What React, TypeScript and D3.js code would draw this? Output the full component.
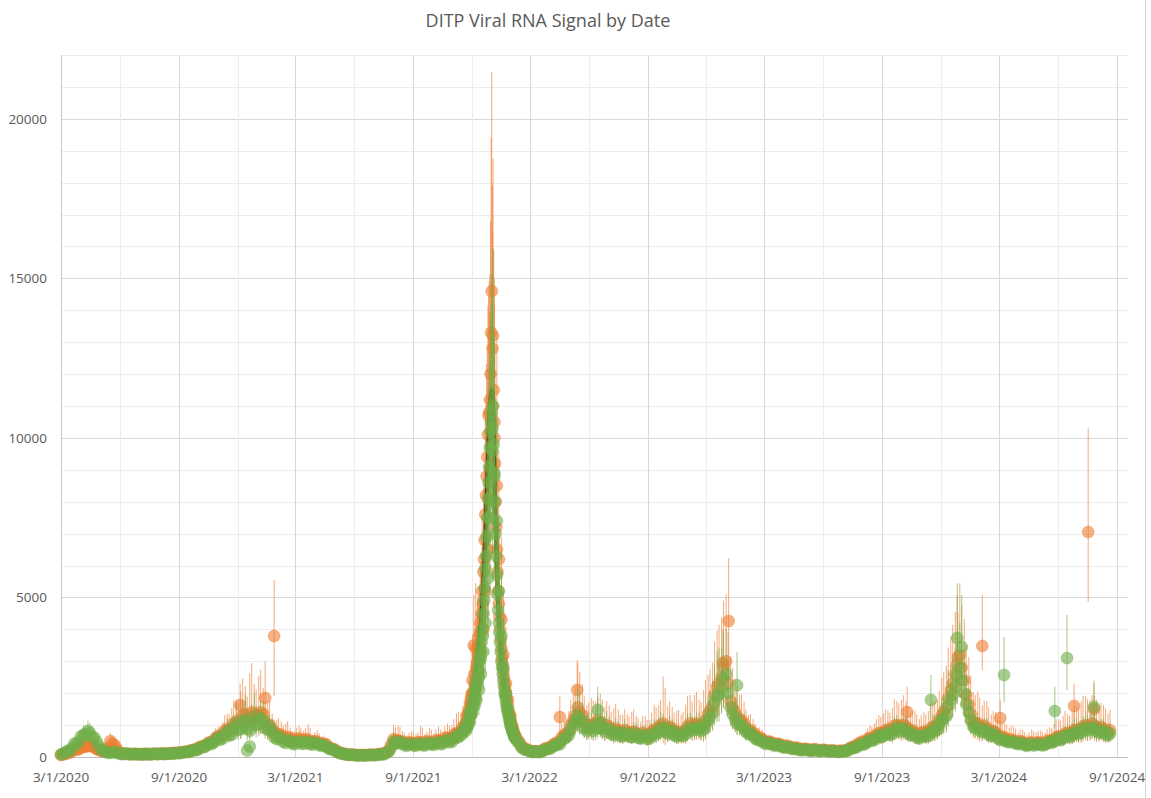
import React from 'react';
import * as d3 from 'd3';

const TITLE = 'DITP Viral RNA Signal by Date';
const xTickLabels = ['3/1/2020', '9/1/2020', '3/1/2021', '9/1/2021', '3/1/2022', '9/1/2022', '3/1/2023', '9/1/2023', '3/1/2024', '9/1/2024'];
const yTickLabels = [0, 5000, 10000, 15000, 20000];
const X_START = '2020-03-01';
const X_END = '2024-09-18';
const Y_MAX = 22000;

// weekly samples starting 2020-03-01 (Sunday) and 2020-03-04 (Wednesday)
const WEEKLY_START = '2020-03-01';
const MIDWEEK_START = '2020-03-04';
const greenWeekly = [
  80, 150, 200, 420, 480, 700, 820, 620, 470, 220, 160, 130, 160,
  110, 95, 95, 85, 80, 90, 85, 80, 100, 95, 90, 110, 105, 125,
  135, 155, 190, 215, 280, 310, 420, 450, 600, 580, 800, 700, 1050, 880, 1150, 820, 1250, 1050, 1150, 850, 800, 560, 580, 440, 500, 400,
  480, 410, 460, 390, 430, 350, 340, 240, 200, 120, 95, 65, 62, 48, 52, 50, 62, 58, 78, 90, 170, 480, 430, 420, 350, 400,
  350, 420, 360, 430, 380, 460, 420, 520, 480, 650, 680, 900, 1100, 1600, 2100, 3300, 5600, 9600, 7400, 3800, 2000, 1150, 600, 420, 240, 200,
  150, 165, 170, 240, 270, 370, 400, 600, 680, 1000, 1300, 1100, 820, 920, 900, 1080, 800, 850, 700, 760, 660, 720, 620, 720, 580, 660,
  580, 760, 780, 900, 740, 820, 640, 680, 720, 900, 850, 900, 860, 1150, 1400, 1900, 2150, 2600, 1550, 1200, 1000, 920, 720, 680, 530, 500, 410,
  420, 350, 360, 290, 300, 250, 240, 210, 220, 190, 220, 180, 200, 170, 180, 160, 170, 190, 270, 300, 400, 410, 530, 530, 660, 650, 760,
  720, 900, 800, 850, 680, 690, 580, 690, 660, 830, 860, 1150, 1300, 1800, 2200, 2800, 2000, 1400, 950, 920, 780, 820, 660, 680, 530, 520,
  460, 460, 400, 420, 350, 400, 380, 390, 380, 470, 480, 570, 580, 680, 670, 780, 760, 900, 860, 880, 760, 800, 680,
];
const greenMidweek = [
  100, 190, 280, 400, 640, 700, 760, 600, 330, 200, 130, 150, 130,
  90, 110, 80, 95, 90, 80, 95, 95, 90, 105, 105, 100, 125, 120,
  160, 160, 220, 230, 320, 380, 400, 560, 540, 720, 680, 920, 850, 1100, 900, 1100, 1000, 1200, 900, 950, 620, 640, 480, 520, 420, 470,
  420, 470, 400, 450, 370, 370, 270, 240, 150, 110, 75, 68, 52, 55, 48, 58, 56, 70, 80, 130, 300, 420, 460, 370, 410, 360,
  400, 370, 420, 390, 440, 400, 500, 460, 600, 620, 820, 950, 1350, 1800, 2600, 4200, 7500, 8800, 5200, 2800, 1500, 850, 500, 300, 220, 170,
  170, 150, 210, 250, 330, 380, 520, 600, 880, 1100, 1200, 900, 900, 820, 1050, 880, 900, 720, 780, 650, 740, 640, 700, 600, 680, 560,
  700, 720, 880, 780, 840, 680, 700, 660, 850, 820, 920, 820, 1000, 1250, 1700, 1950, 2450, 2000, 1350, 1050, 980, 780, 740, 580, 540, 430, 440,
  370, 380, 310, 320, 260, 260, 215, 230, 200, 210, 190, 200, 180, 185, 165, 175, 180, 240, 280, 360, 380, 480, 500, 610, 620, 720, 700,
  850, 820, 880, 740, 720, 610, 650, 640, 760, 800, 1000, 1200, 1600, 1950, 2550, 2400, 1650, 1150, 900, 820, 850, 700, 720, 580, 560, 480,
  490, 420, 440, 370, 390, 360, 400, 360, 430, 440, 540, 530, 650, 630, 740, 720, 850, 830, 920, 800, 820, 700, 740,
];
const orangeWeekly = [
  60, 100, 140, 230, 240, 330, 340, 350, 240, 190, 200, 500, 360,
  135, 105, 100, 95, 95, 80, 105, 85, 105, 105, 105, 110, 125, 130,
  150, 165, 210, 230, 320, 340, 460, 490, 660, 680, 880, 900, 1120, 1080, 1350, 1250, 1350, 1300, 1350, 950, 880, 680, 700, 580, 600, 490,
  580, 520, 540, 450, 480, 400, 400, 270, 230, 140, 105, 75, 75, 58, 62, 60, 75, 70, 95, 115, 210, 560, 520, 480, 410, 450,
  420, 460, 450, 480, 450, 530, 500, 600, 580, 740, 800, 1050, 1350, 2000, 2700, 4000, 6500, 11000, 8500, 4300, 2300, 1300, 680, 470, 280, 220,
  170, 180, 190, 280, 310, 430, 470, 700, 800, 1150, 1550, 1300, 950, 1000, 1050, 1100, 900, 950, 800, 850, 740, 790, 760, 740, 650, 720,
  660, 860, 900, 1050, 860, 900, 760, 740, 820, 1050, 1000, 1000, 1000, 1350, 1600, 2200, 2500, 3000, 1750, 1400, 1150, 1050, 820, 770, 600, 570, 460,
  470, 400, 400, 330, 340, 280, 280, 240, 250, 220, 240, 200, 220, 190, 200, 180, 190, 220, 310, 350, 460, 480, 600, 620, 750, 760, 860,
  830, 1000, 940, 960, 800, 780, 680, 780, 760, 940, 1000, 1300, 1550, 2100, 2600, 3200, 2400, 1650, 1100, 1050, 900, 920, 760, 760, 610, 600,
  520, 520, 450, 470, 400, 460, 430, 450, 430, 520, 540, 640, 660, 750, 760, 860, 870, 1000, 960, 980, 870, 880, 780,
];
const orangeMidweek = [
  80, 120, 190, 230, 290, 320, 360, 290, 220, 170, 280, 420, 250,
  120, 100, 95, 100, 85, 95, 90, 100, 95, 110, 105, 120, 125, 140,
  160, 190, 220, 280, 330, 410, 470, 600, 650, 820, 860, 1050, 1050, 1300, 1150, 1400, 1250, 1400, 1100, 1000, 760, 720, 620, 620, 520, 560,
  530, 560, 480, 500, 430, 420, 320, 260, 180, 120, 85, 78, 62, 60, 58, 68, 68, 85, 100, 160, 380, 520, 500, 440, 460, 430,
  460, 440, 490, 450, 520, 480, 600, 560, 700, 760, 950, 1150, 1700, 2300, 3300, 5200, 9000, 10000, 6200, 3200, 1800, 950, 580, 350, 250, 190,
  180, 170, 240, 280, 380, 430, 620, 720, 1000, 1300, 1400, 1100, 1000, 950, 1150, 1000, 1000, 830, 880, 760, 840, 740, 800, 700, 760, 640,
  790, 820, 1000, 900, 940, 800, 780, 780, 960, 940, 1050, 950, 1150, 1450, 1950, 2300, 2800, 2300, 1550, 1250, 1150, 900, 840, 680, 620, 500, 480,
  420, 420, 360, 360, 300, 300, 250, 260, 230, 240, 210, 230, 200, 210, 185, 200, 200, 270, 330, 420, 440, 560, 580, 700, 720, 830, 820,
  980, 960, 1020, 880, 840, 720, 760, 740, 880, 950, 1150, 1400, 1850, 2300, 2900, 2800, 1950, 1350, 1050, 950, 980, 820, 820, 680, 640, 560,
  560, 480, 500, 430, 440, 420, 460, 420, 500, 500, 620, 620, 740, 720, 840, 830, 960, 950, 1050, 920, 940, 820, 840,
];
// error bar spread per week, percent (upper = v*(1+p/100), lower = v/(1+p/100))
const greenWeeklyErr = [
  20, 25, 30, 35, 30, 40, 40, 35, 30, 25, 20, 20, 25,
  20, 20, 25, 20, 20, 25, 20, 20, 25, 20, 20, 25, 20, 25,
  25, 30, 25, 30, 35, 30, 40, 35, 45, 40, 50, 45, 60, 55, 70, 50, 60, 45, 55, 40, 50, 45, 40, 35, 45, 40,
  35, 40, 50, 35, 40, 45, 35, 40, 30, 30, 25, 20, 20, 20, 25, 20, 20, 25, 30, 35, 40, 60, 50, 45, 40, 50,
  45, 40, 55, 40, 50, 45, 50, 40, 55, 45, 50, 60, 55, 50, 60, 55, 50, 50, 45, 55, 50, 45, 40, 40, 35, 30,
  30, 30, 35, 40, 45, 50, 45, 55, 50, 60, 70, 55, 60, 50, 75, 55, 60, 50, 55, 50, 60, 45, 55, 50, 45, 50,
  50, 55, 60, 50, 55, 45, 50, 45, 60, 55, 50, 55, 60, 65, 70, 75, 60, 55, 50, 55, 45, 50, 40, 45, 40, 35, 35,
  35, 30, 35, 30, 30, 25, 30, 25, 25, 30, 25, 25, 30, 25, 25, 30, 25, 30, 35, 30, 35, 40, 35, 40, 45, 40, 45,
  50, 45, 40, 50, 45, 40, 45, 50, 45, 60, 55, 60, 70, 60, 55, 50, 60, 55, 45, 50, 45, 50, 40, 45, 40, 35,
  35, 40, 35, 40, 35, 40, 45, 40, 45, 50, 55, 45, 50, 55, 60, 55, 50, 60, 55, 50, 45, 50, 45,
];
const orangeWeeklyErr = [
  25, 30, 35, 40, 35, 45, 40, 45, 40, 35, 40, 50, 45,
  30, 25, 30, 25, 30, 25, 30, 25, 30, 25, 30, 25, 30, 30,
  30, 35, 30, 40, 35, 45, 40, 50, 45, 60, 55, 70, 60, 90, 65, 110, 70, 95, 60, 75, 55, 70, 60, 80, 55, 65,
  70, 60, 90, 55, 75, 60, 50, 45, 40, 35, 30, 30, 25, 25, 30, 25, 30, 35, 40, 50, 60, 80, 90, 70, 65, 80,
  70, 110, 60, 90, 65, 80, 60, 75, 70, 85, 70, 80, 75, 70, 65, 60, 55, 50, 55, 60, 55, 50, 45, 50, 40, 35,
  35, 40, 45, 50, 60, 55, 70, 65, 80, 70, 90, 75, 70, 85, 65, 80, 75, 70, 90, 75, 80, 70, 85, 75, 70, 80,
  75, 90, 80, 140, 85, 75, 90, 80, 100, 85, 95, 80, 110, 90, 85, 80, 75, 70, 80, 75, 70, 65, 60, 55, 50, 50, 45,
  45, 40, 45, 40, 35, 40, 35, 40, 35, 40, 35, 30, 35, 40, 35, 30, 35, 40, 45, 50, 55, 60, 65, 70, 75, 80, 70,
  85, 75, 90, 80, 70, 85, 75, 80, 90, 85, 80, 90, 85, 80, 75, 70, 80, 90, 85, 95, 80, 90, 75, 85, 70, 80,
  75, 85, 70, 80, 75, 90, 80, 85, 75, 80, 90, 85, 95, 80, 90, 85, 100, 90, 85, 95, 80, 85, 75,
];

// daily samples through the winter 2021-22 surge, starting 2021-11-21
const SURGE_START = '2021-11-21';
const greenSurge = [
  900, 820, 1000, 950, 1100, 1050, 1250, 1400, 1300, 1500,
  1450, 1700, 1600, 1900, 2100, 1850, 2200, 2400, 2300, 2600,
  2800, 2500, 3000, 3300, 3100, 3600, 4000, 3800, 4500, 4900,
  5300, 5900, 6300, 6900, 7500, 8100, 8600, 9100, 9700, 10200,
  10500, 10800, 10300, 11000, 9800, 8900, 8000, 7000, 6300, 5700,
  5100, 4600, 4200, 3900, 3600, 3300, 3000, 2800, 2600, 2400,
  2200, 2000, 1900, 1750, 1600, 1500, 1400, 1300, 1200, 1100,
  1000, 950, 880, 800, 760, 700, 650, 600,
];
const orangeSurge = [
  1000, 900, 1300, 1100, 1250, 1400, 1500, 1700, 1600, 1900,
  2000, 2400, 2000, 3500, 2600, 2300, 3400, 2800, 3000, 3200,
  3500, 3100, 3800, 4200, 3900, 4500, 5200, 4800, 5800, 6200,
  6800, 7600, 8200, 8800, 9400, 10100, 10700, 10800, 11200, 12000,
  13300, 14600, 12800, 13200, 11500, 10500, 9200, 8000, 7200, 6500,
  5800, 5200, 4800, 4400, 4000, 3700, 3400, 3100, 2900, 2700,
  2500, 2300, 2100, 2000, 1850, 1700, 1600, 1450, 1350, 1250,
  1150, 1050, 1000, 900, 850, 780, 720, 680,
];
const darkSurge = [
  950, 1000, 1050, 1100, 1200, 1300, 1400, 1500, 1600, 1700,
  1800, 1900, 2000, 2150, 2300, 2450, 2600, 2750, 2900, 3100,
  3300, 3500, 3700, 3950, 4200, 4500, 4850, 5200, 5600, 6000,
  6500, 7000, 7600, 8200, 8800, 9400, 10000, 10500, 10900, 11200,
  11400, 11500, 11400, 11000, 10200, 9200, 8200, 7300, 6500, 5800,
  5200, 4700, 4300, 3900, 3600, 3300, 3000, 2800, 2600, 2400,
  2200, 2050, 1900, 1750, 1600, 1500, 1400, 1300, 1200, 1100,
  1000, 950, 880, 820, 760, 700, 650, 600,
];
const greenSurgeErr = [
  35, 40, 30, 45, 35, 40, 50, 35, 45, 40,
  50, 35, 45, 40, 55, 40, 45, 50, 40, 45,
  40, 50, 45, 40, 50, 45, 40, 45, 35, 40,
  35, 40, 30, 35, 30, 35, 30, 35, 30, 35,
  35, 40, 35, 45, 35, 30, 35, 30, 35, 40,
  35, 40, 45, 40, 35, 40, 45, 40, 35, 40,
  45, 40, 35, 40, 45, 40, 35, 40, 45, 35,
  40, 35, 40, 45, 35, 40, 35, 40,
];
const orangeSurgeErr = [
  40, 45, 50, 40, 55, 45, 50, 60, 45, 55,
  50, 60, 45, 45, 55, 50, 60, 45, 50, 55,
  45, 50, 40, 45, 50, 40, 45, 40, 45, 40,
  35, 40, 35, 40, 35, 40, 35, 38, 35, 40,
  46, 47, 40, 42, 38, 35, 40, 35, 38, 40,
  35, 40, 45, 40, 35, 45, 40, 50, 45, 40,
  50, 45, 40, 50, 45, 40, 45, 50, 40, 45,
  40, 45, 50, 40, 45, 40, 45, 40,
];

// individual readings: [date, value, low, high]
const orangeOutliers: [string, number, number, number][] = [
  ['2020-12-05', 1630, 1100, 2300],
  ['2021-01-13', 1850, 1200, 3000],
  ['2021-01-27', 3790, 1900, 5550],
  ['2022-04-17', 1250, 800, 1900],
  ['2022-05-14', 2100, 1400, 3040],
  ['2022-12-27', 2950, 2000, 4000],
  ['2023-01-05', 4260, 2000, 6230],
  ['2023-10-10', 1410, 900, 2200],
  ['2023-12-28', 3130, 2000, 4500],
  ['2024-02-04', 3480, 2720, 5075],
  ['2024-03-03', 1220, 800, 1800],
  ['2024-06-26', 1600, 1100, 2300],
  ['2024-07-18', 7050, 4860, 10300],
  ['2024-07-27', 1500, 1000, 2400],
];
const greenOutliers: [string, number, number, number][] = [
  ['2020-12-16', 200, 150, 260],
  ['2020-12-20', 330, 250, 430],
  ['2022-06-15', 1470, 1000, 2200],
  ['2023-01-18', 2250, 1500, 3290],
  ['2023-11-16', 1790, 1000, 2570],
  ['2023-12-27', 3730, 2500, 5450],
  ['2024-01-03', 3450, 2300, 5075],
  ['2024-03-09', 2570, 1720, 3760],
  ['2024-05-27', 1440, 900, 2200],
  ['2024-06-15', 3100, 2100, 4450],
  ['2024-07-27', 1570, 1000, 2300],
];

const ORANGE = '#ED7D31';
const GREEN = '#70AD47';
const DARK = '#3a2810';
const TEXT = '#595959';
const FONT = '"Open Sans", "Liberation Sans", Arial, sans-serif';

type Pt = { d: Date; v: number; lo: number; hi: number };

export default function App() {
  const W = 1151;
  const H = 798;
  const left = 61, right = 1128, top = 55, bottom = 757;
  const parse = d3.utcParse('%Y-%m-%d');
  const parseTick = d3.utcParse('%m/%d/%Y');

  const x = d3.scaleUtc().domain([parse(X_START)!, parse(X_END)!]).range([left, right]);
  const y = d3.scaleLinear().domain([0, Y_MAX]).range([bottom, top]);

  const ws = parse(WEEKLY_START)!;
  const ms = parse(MIDWEEK_START)!;
  const ss = parse(SURGE_START)!;
  const series = (vals: number[], errs: number[], start: Date, step: number): Pt[] =>
    vals.map((v, i) => {
      const f = 1 + (errs[i] ?? 30) / 100;
      return { d: d3.utcDay.offset(start, i * step), v, lo: v / f, hi: v * f };
    });
  const fromOut = (arr: [string, number, number, number][]): Pt[] =>
    arr.map(([d, v, lo, hi]) => ({ d: parse(d)!, v, lo, hi }));

  const orangePts = [
    ...series(orangeWeekly, orangeWeeklyErr, ws, 7),
    ...series(orangeMidweek, orangeWeeklyErr, ms, 7),
    ...series(orangeSurge, orangeSurgeErr, ss, 1),
    ...fromOut(orangeOutliers),
  ];
  const greenPts = [
    ...series(greenWeekly, greenWeeklyErr, ws, 7),
    ...series(greenMidweek, greenWeeklyErr, ms, 7),
    ...series(greenSurge, greenSurgeErr, ss, 1),
    ...fromOut(greenOutliers),
  ];

  const darkLine = d3
    .line<number>()
    .x((_, i) => x(d3.utcDay.offset(ss, i)))
    .y((v) => y(v))
    .curve(d3.curveMonotoneX)(darkSurge) || '';

  const yGrid = d3.range(0, Y_MAX + 1, 1000);
  const months = d3.utcMonths(parse(X_START)!, parse(X_END)!, 3);
  const majorMonths = xTickLabels.map((s) => parseTick(s)!.getTime());

  const renderBars = (pts: Pt[], color: string) => (
    <g>
      {pts.map((p, i) => (
        <line
          key={'e' + i}
          x1={x(p.d)}
          x2={x(p.d)}
          y1={y(p.lo)}
          y2={y(p.hi)}
          stroke={color}
          strokeOpacity={0.65}
          strokeWidth={1}
        />
      ))}
    </g>
  );
  const renderDots = (pts: Pt[], color: string) => (
    <g>
      {pts.map((p, i) => (
        <circle
          key={'c' + i}
          cx={x(p.d)}
          cy={y(p.v)}
          r={6}
          fill={color}
          fillOpacity={0.6}
          stroke={color}
          strokeOpacity={0.5}
          strokeWidth={0.75}
        />
      ))}
    </g>
  );

  return (
    <>
      <style>{'body{margin:0;background:#fff}'}</style>
      <svg width={W} height={H} style={{ display: 'block' }} fontFamily={FONT}>
        <rect width={W} height={H} fill="#ffffff" />
        <line x1={1145.5} x2={1145.5} y1={0} y2={H} stroke="#d9d9d9" strokeWidth={1} />
        {yGrid.map((v) => (
          <line
            key={'hy' + v}
            x1={left}
            x2={right}
            y1={Math.round(y(v)) + 0.5}
            y2={Math.round(y(v)) + 0.5}
            stroke={v % 5000 === 0 ? '#d9d9d9' : '#ededed'}
            strokeWidth={1}
          />
        ))}
        {months.map((m) => {
          const major = majorMonths.includes(m.getTime());
          const px = Math.round(x(m)) + 0.5;
          return (
            <line
              key={'vx' + m.getTime()}
              x1={px}
              x2={px}
              y1={top}
              y2={bottom}
              stroke={major ? '#d9d9d9' : '#ededed'}
              strokeWidth={1}
            />
          );
        })}
        <line x1={left + 0.5} x2={left + 0.5} y1={top} y2={bottom} stroke="#c8c8c8" />
        <line x1={left} x2={right} y1={bottom + 0.5} y2={bottom + 0.5} stroke="#bfbfbf" />

        {renderBars(orangePts, ORANGE)}
        {renderDots(orangePts, ORANGE)}
        <path d={darkLine} fill="none" stroke={DARK} strokeWidth={4} strokeOpacity={0.85} />
        {renderBars(greenPts, GREEN)}
        {renderDots(greenPts, GREEN)}

        {yTickLabels.map((v) => (
          <text
            key={'yl' + v}
            x={47}
            y={y(v)}
            dy="0.35em"
            textAnchor="end"
            fontSize={13.5}
            fill={TEXT}
          >
            {v}
          </text>
        ))}
        {xTickLabels.map((s) => (
          <text
            key={'xl' + s}
            x={x(parseTick(s)!)}
            y={777}
            dy="0.35em"
            textAnchor="middle"
            fontSize={13.5}
            fill={TEXT}
          >
            {s}
          </text>
        ))}
        <text x={548} y={21} dy="0.35em" textAnchor="middle" fontSize={18} fill={TEXT}>
          {TITLE}
        </text>
      </svg>
    </>
  );
}
